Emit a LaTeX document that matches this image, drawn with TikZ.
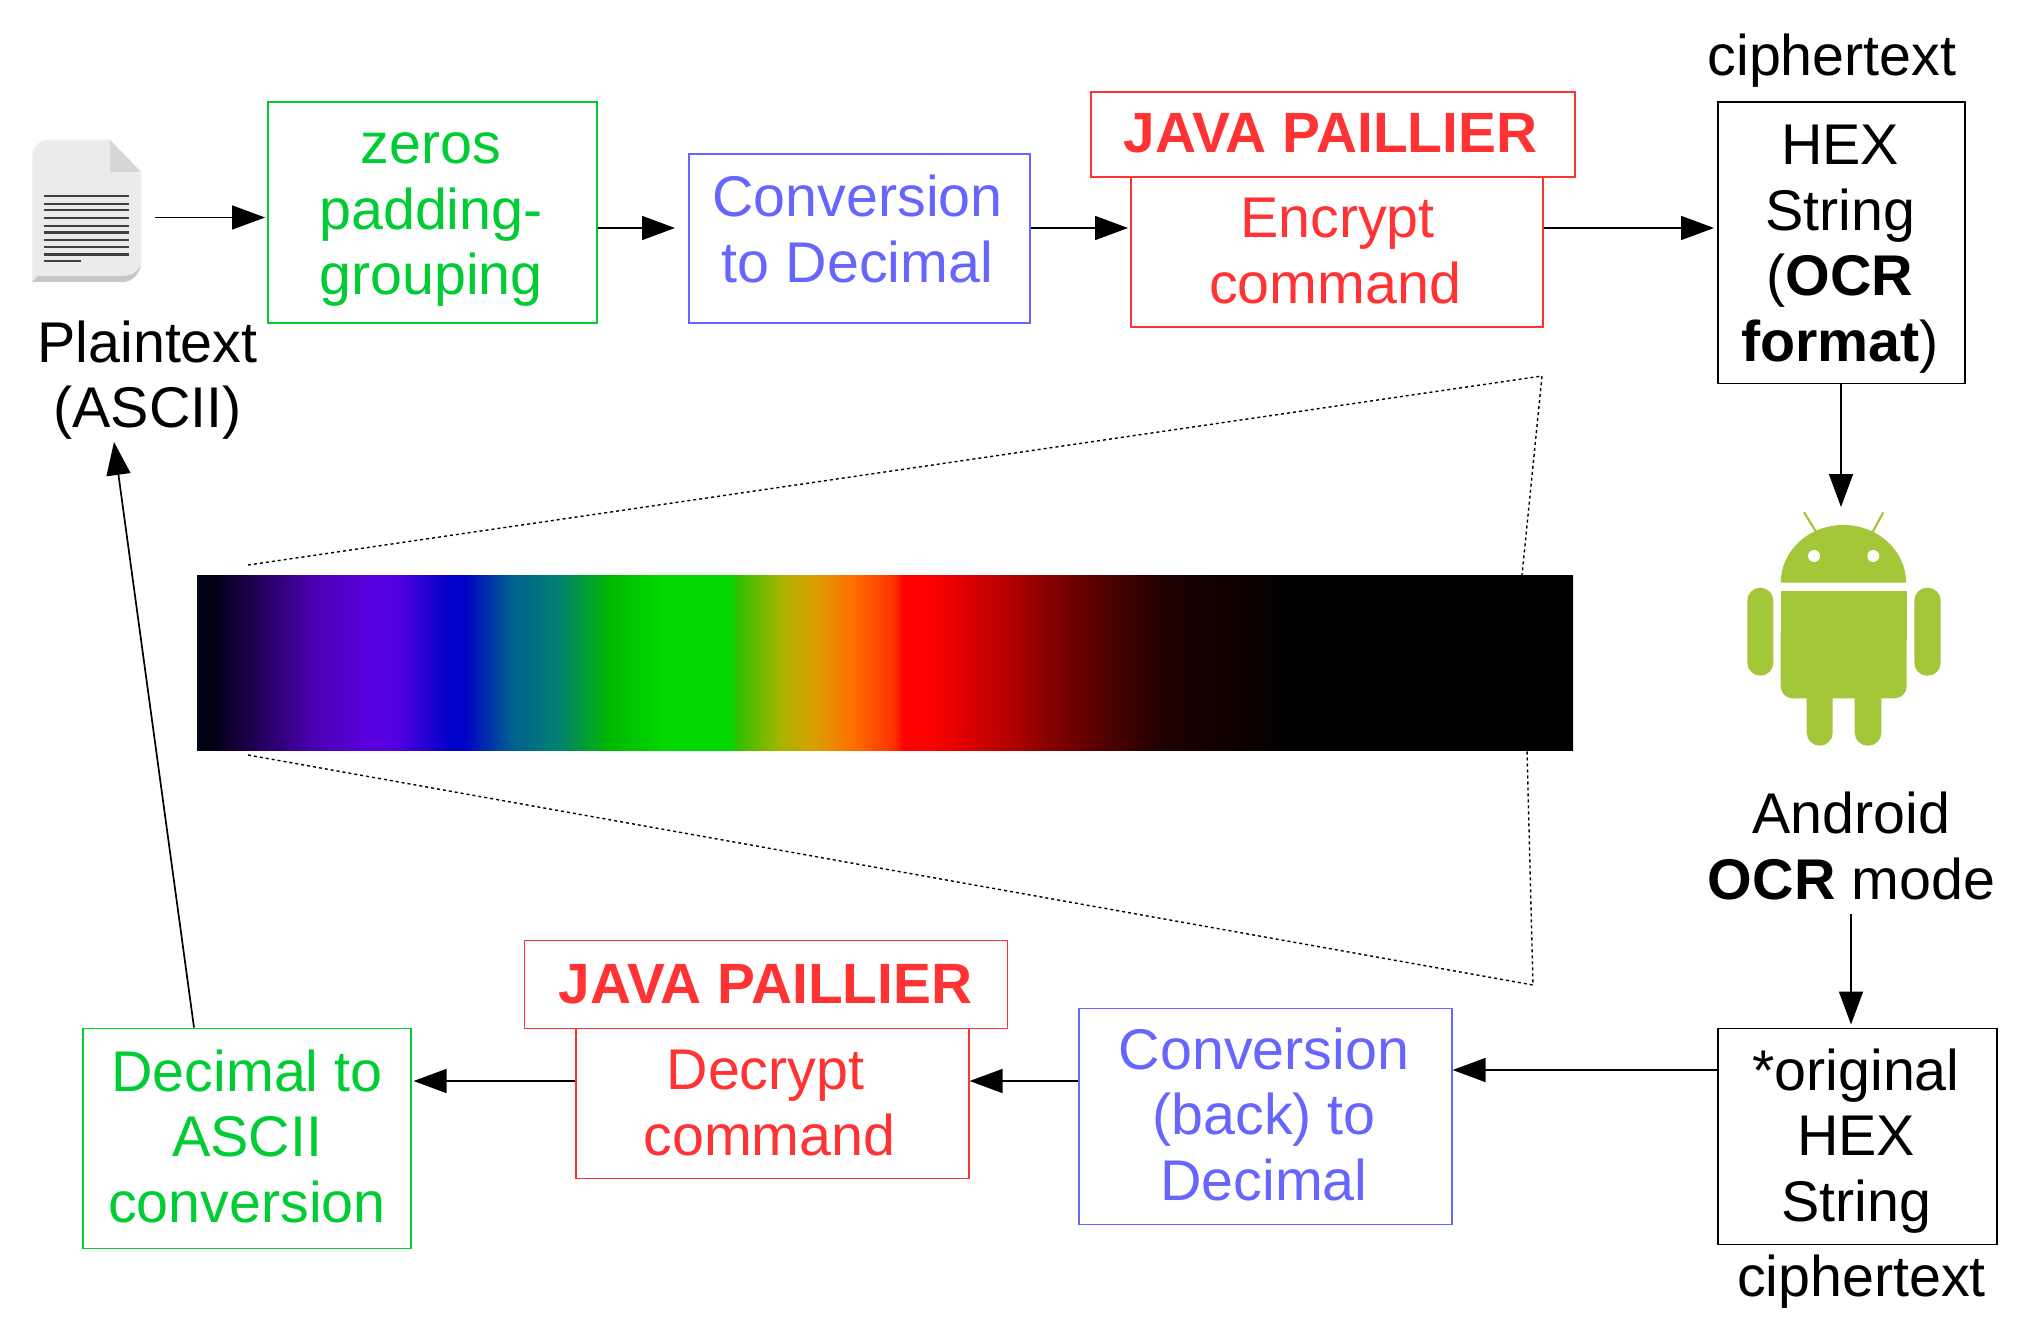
\documentclass[tikz,border=0pt]{standalone}
\usepackage{fontspec}
\setmainfont{Liberation Sans}
\usetikzlibrary{arrows.meta,calc}
\definecolor{cgreen}{HTML}{00CC33}
\definecolor{cblue}{HTML}{6666FF}
\definecolor{cred}{HTML}{FF3333}
\definecolor{droid}{HTML}{A4C639}
\pgfdeclarehorizontalshading{spectrum}{100bp}{
 color(0bp)=(rgb,255:red,0;green,0;blue,26);
 color(25bp)=(rgb,255:red,0;green,0;blue,26);
 color(25.5bp)=(rgb,255:red,0;green,0;blue,16);
 color(29.2bp)=(rgb,255:red,75;green,0;blue,176);
 color(31.3bp)=(rgb,255:red,90;green,0;blue,224);
 color(32.3bp)=(rgb,255:red,80;green,0;blue,224);
 color(34.2bp)=(rgb,255:red,0;green,0;blue,200);
 color(34.7bp)=(rgb,255:red,0;green,0;blue,200);
 color(36.4bp)=(rgb,255:red,0;green,96;blue,144);
 color(38.1bp)=(rgb,255:red,0;green,128;blue,112);
 color(40bp)=(rgb,255:red,0;green,184;blue,0);
 color(41bp)=(rgb,255:red,0;green,200;blue,0);
 color(41.9bp)=(rgb,255:red,0;green,216;blue,0);
 color(44.4bp)=(rgb,255:red,0;green,216;blue,0);
 color(44.6bp)=(rgb,255:red,48;green,192;blue,0);
 color(46.2bp)=(rgb,255:red,168;green,180;blue,0);
 color(47.4bp)=(rgb,255:red,216;green,160;blue,0);
 color(48.8bp)=(rgb,255:red,255;green,112;blue,0);
 color(50.3bp)=(rgb,255:red,255;green,48;blue,0);
 color(50.65bp)=(rgb,255:red,255;green,0;blue,0);
 color(51.6bp)=(rgb,255:red,255;green,0;blue,0);
 color(54.65bp)=(rgb,255:red,176;green,0;blue,0);
 color(55.9bp)=(rgb,255:red,136;green,0;blue,0);
 color(58.3bp)=(rgb,255:red,72;green,0;blue,0);
 color(60.1bp)=(rgb,255:red,32;green,0;blue,0);
 color(64.7bp)=(rgb,255:red,0;green,0;blue,0);
 color(100bp)=(rgb,255:red,0;green,0;blue,0)}
\tikzset{
 x=1pt,y=-1pt,
 sz/.style 2 args={minimum width=#1pt,minimum height=#2pt},
 box/.style={draw,line width=1.6pt,inner sep=0pt,anchor=north west},
 gbox/.style={box,draw=cgreen},
 bbox/.style={box,draw=cblue},
 rbox/.style={box,draw=cred},
 kbox/.style={box,draw=black},
 txt/.style={align=center,inner sep=0pt,font=\fontsize{57.4}{65.5}\selectfont},
 btxt/.style={txt,font=\fontsize{56.8}{65.5}\selectfont\bfseries},
 flow/.style={line width=1.7pt,-{Triangle[length=33pt,width=24pt]}},
 dots/.style={line width=1.4pt,dash pattern=on 3pt off 3pt},
}
\begin{document}
\begin{tikzpicture}
\useasboundingbox (0,0) rectangle (2027,1332);
\fill[white] (0,0) rectangle (2027,1332);
% boxes
\node[gbox,sz={329}{221}] (zeros) at (267,101.5) {};
\node[bbox,sz={341}{169}] (conv) at (688,153.5) {};
\node[rbox,sz={484}{85}] (java) at (1090,91.5) {};
\node[rbox,sz={412}{150}] (enc) at (1130,176.5) {};
\node[kbox,sz={247}{281}] (hex) at (1717,101.5) {};
\node[kbox,sz={279}{216}] (orig) at (1717,1027.5) {};
\node[bbox,sz={373}{216}] (back) at (1078,1007.5) {};
\node[rbox,sz={393}{150}] (dec) at (575,1027.5) {};
\node[rbox,sz={483}{88}] (javab) at (523.5,939.5) {};
\node[gbox,sz={328}{220}] (asc) at (82,1027.5) {};
% texts
\node[txt] (tc1) at (1832,61) {ciphertext};
\node[txt] (tplain) at (147.5,380) {Plaintext\\(ASCII)};
\node[txt,text=cgreen] (tzeros) at (431,220) {zeros\\padding-\\grouping};
\node[txt,text=cblue] (tconv) at (857.5,229) {Conversion\\to Decimal};
\node[btxt,text=cred] (tjava) at (1330.5,133) {JAVA PAILLIER};
\node[txt,text=cred] (tenc) at (1335,251) {\hspace*{5pt}Encrypt\\command};
\node[txt] (thex) at (1840,249) {HEX\\String\\(\textbf{OCR}\\\textbf{format})};
\node[txt] (tand) at (1851.5,846) {Android\\\textbf{OCR} mode};
\node[txt] (torig) at (1856,1141) {*original\\HEX\\String};
\node[txt] (tc2) at (1861.5,1282) {ciphertext};
\node[txt,text=cblue] (tback) at (1264,1114) {Conversion\\(back) to\\Decimal};
\node[txt,text=cred] (tdec) at (769.5,1103) {Decrypt\hspace*{8pt}\\command};
\node[btxt,text=cred] (tjavab) at (765.5,984) {JAVA PAILLIER};
\node[txt,text=cgreen] (tasc) at (247,1136) {Decimal to\\ASCII\\conversion};
% spectrum
\coordinate (zbl) at (248,565);
\coordinate (ztr) at (1542,376);
\coordinate (zbr) at (1533,985);
\coordinate (zbb) at (248,755);
\coordinate (zhi) at (1522,575);
\coordinate (zlo) at (1527,750);
\draw[dots] (zbl) -- (ztr) -- (zhi);
\draw[dots] (zbb) -- (zbr) -- (zlo);
\node[inner sep=0pt,minimum width=1376pt,minimum height=175pt,anchor=north west,shade,shading=spectrum] (bar) at (197,575) {};
% file icon
\node[inner sep=0pt,minimum width=110pt,minimum height=144pt,anchor=north west] (file) at (31.5,139.5) {};
\fill[black!8,draw=black!4,line width=1pt] (110,140) -- (48,140) to[out=180,in=90] (32,158) -- (32,282) -- (122,282) to[out=0,in=270] (141,262) -- (141,172) -- cycle;
\fill[black!22] (32,282) -- (122,282) to[out=0,in=270] (141,262) to[out=270,in=0] (122,276) -- (38,276) -- cycle;
\fill[black!16] (110,140) -- (141,172) -- (110,172) -- cycle;
\foreach \yy/\ww in {195.7/1.7,203.7/1.7,210/2.4,217.7/1.7,225.7/1.7,232.3/2.6,239.7/1.7,247.3/1.7,254.3/2.6}
 \draw[black!75,line width=\ww pt] (43.5,\yy) -- (129,\yy);
\draw[black!75,line width=1.7pt] (43.5,261.3) -- (81,261.3);
% android
\node[inner sep=0pt,minimum width=194pt,minimum height=234pt,anchor=north west] (droidbot) at (1747,512) {};
\begin{scope}
\fill[droid] (1780.7,582.7) arc[start angle=180,end angle=360,x radius=62.7,y radius=57.7] -- cycle;
\fill[white] (1814,556) circle[radius=6];
\fill[white] (1873.3,556) circle[radius=6];
\draw[droid,line width=2.2pt] (1804,512.3) -- (1816,531.7);
\draw[droid,line width=2.2pt] (1883.3,512.3) -- (1872.7,531.7);
\fill[droid,rounded corners=12pt] (1780.7,620) -- (1780.7,698.3) -- (1906.7,698.3) -- (1906.7,620) -- cycle;
\fill[droid] (1780.7,590.7) rectangle (1906.7,640);
\fill[droid,rounded corners=13pt] (1747.3,587.7) rectangle (1773.3,675.7);
\fill[droid,rounded corners=13pt] (1914.3,587.7) rectangle (1940.7,675.7);
\fill[droid,rounded corners=13pt] (1806.7,670) rectangle (1832.7,745.7);
\fill[droid,rounded corners=13pt] (1854.7,670) rectangle (1881.3,745.7);
\end{scope}
% connectors
\coordinate (ytop) at (0,228);
\coordinate (yfile) at (0,217.5);
\coordinate (yback) at (0,1070);
\coordinate (ylow) at (0,1081);
\coordinate (xh) at (1841,0);
\coordinate (xo) at (1851,0);
\draw[flow] ($(file.east |- yfile)+(13,0)$) -- ($(zeros.west |- yfile)+(-2,0)$);
\draw[flow] (zeros.east |- ytop) -- ($(conv.west |- ytop)+(-13,0)$);
\draw[flow] (conv.east |- ytop) -- ($(enc.west |- ytop)+(-2,0)$);
\draw[flow] (enc.east |- ytop) -- ($(hex.west |- ytop)+(-3,0)$);
\draw[flow] (hex.south -| xh) -- ($(droidbot.north -| xh)+(0,-5)$);
\draw[flow] ($(tand.south -| xo)+(0,14)$) -- ($(orig.north -| xo)+(0,-3)$);
\draw[flow] (orig.west |- yback) -- (back.east |- yback);
\draw[flow] (back.west |- ylow) -- (dec.east |- ylow);
\draw[flow] (dec.west |- ylow) -- ($(asc.east |- ylow)+(2,0)$);
\coordinate (afoot) at (194,1027.5);
\coordinate (atop) at (114,442);
\draw[flow] (afoot) -- (atop);
\end{tikzpicture}
\end{document}
